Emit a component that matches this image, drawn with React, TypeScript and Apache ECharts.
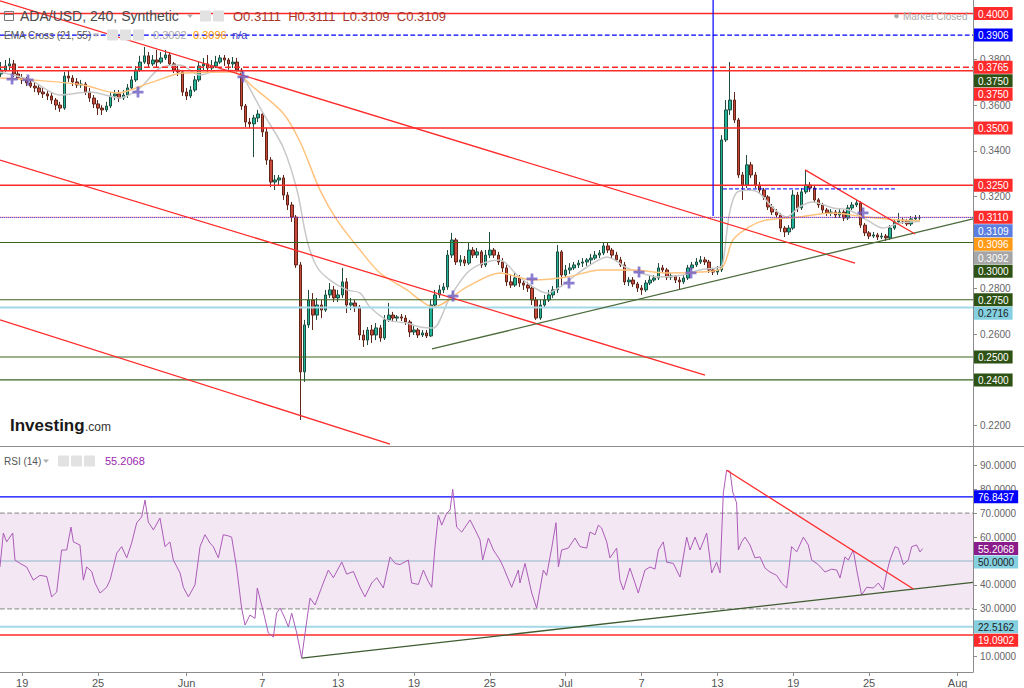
import React, { useEffect, useRef } from "react";
import * as echarts from "echarts";

// ---------------- DATA ----------------
// x values are days relative to Jun 1 (00:00)
const TICK_DAYS = [-13, -7, 0, 6, 12, 18, 24, 30, 36, 42, 48, 54, 61];
const TICK_LABELS = ["19", "25", "Jun", "7", "13", "19", "25", "Jul", "7", "13", "19", "25", "Aug"];
const PRICE_TICKS = [0.22, 0.24, 0.26, 0.28, 0.3, 0.32, 0.34, 0.36, 0.38, 0.4];
const PRICE_TICK_LABELS = [0.22, 0.26, 0.28, 0.32, 0.34, 0.36, 0.38];
const RSI_TICKS = [10, 20, 30, 40, 50, 60, 70, 80, 90];
const RSI_TICK_LABELS = [10, 30, 40, 60, 70, 80, 90];
const X_RANGE = [-14.755, 62.22];
const PRICE_RANGE = [0.21113, 0.4059];
const RSI_RANGE = [3.56, 97.7];

const CANDLE_START_DAY = -14.667;
const CANDLE_STEP_DAYS = 1 / 3;
// [open, close, low, high]
const CANDLES: number[][] = [
  [0.3736,0.3753,0.3723,0.3788],[0.3753,0.3771,0.3745,0.3797],[0.3771,0.3780,0.3753,0.3806],[0.3780,0.3736,0.3723,0.3797],
  [0.3736,0.3718,0.3710,0.3753],[0.3718,0.3710,0.3692,0.3736],[0.3710,0.3697,0.3683,0.3723],[0.3697,0.3683,0.3675,0.3710],
  [0.3683,0.3675,0.3657,0.3701],[0.3675,0.3657,0.3644,0.3688],[0.3657,0.3649,0.3631,0.3675],[0.3649,0.3640,0.3622,0.3666],
  [0.3640,0.3622,0.3605,0.3657],[0.3622,0.3600,0.3579,0.3631],[0.3600,0.3587,0.3570,0.3614],[0.3587,0.3727,0.3579,0.3745],
  [0.3727,0.3718,0.3701,0.3753],[0.3718,0.3701,0.3683,0.3731],[0.3701,0.3688,0.3675,0.3718],[0.3688,0.3692,0.3675,0.3710],
  [0.3692,0.3657,0.3644,0.3701],[0.3657,0.3631,0.3614,0.3675],[0.3631,0.3605,0.3587,0.3644],[0.3605,0.3587,0.3557,0.3622],
  [0.3587,0.3579,0.3557,0.3600],[0.3579,0.3596,0.3570,0.3614],[0.3596,0.3640,0.3587,0.3657],[0.3640,0.3649,0.3622,0.3666],
  [0.3649,0.3631,0.3614,0.3666],[0.3631,0.3644,0.3622,0.3666],[0.3644,0.3675,0.3631,0.3692],[0.3675,0.3710,0.3666,0.3727],
  [0.3710,0.3753,0.3701,0.3771],[0.3753,0.3788,0.3745,0.3815],[0.3788,0.3815,0.3780,0.3854],[0.3815,0.3780,0.3766,0.3832],
  [0.3780,0.3797,0.3771,0.3819],[0.3797,0.3788,0.3766,0.3841],[0.3788,0.3806,0.3780,0.3832],[0.3806,0.3819,0.3797,0.3841],
  [0.3819,0.3780,0.3771,0.3832],[0.3780,0.3753,0.3740,0.3788],[0.3753,0.3745,0.3727,0.3771],[0.3745,0.3657,0.3640,0.3753],
  [0.3657,0.3640,0.3622,0.3675],[0.3640,0.3666,0.3631,0.3683],[0.3666,0.3710,0.3657,0.3727],[0.3710,0.3771,0.3701,0.3788],
  [0.3771,0.3780,0.3753,0.3806],[0.3780,0.3762,0.3745,0.3819],[0.3762,0.3771,0.3745,0.3797],[0.3771,0.3788,0.3762,0.3815],
  [0.3788,0.3806,0.3780,0.3819],[0.3806,0.3797,0.3771,0.3819],[0.3797,0.3780,0.3753,0.3806],[0.3780,0.3788,0.3762,0.3810],
  [0.3788,0.3753,0.3736,0.3806],[0.3753,0.3596,0.3579,0.3762],[0.3596,0.3526,0.3504,0.3605],[0.3526,0.3518,0.3500,0.3544],
  [0.3518,0.3544,0.3373,0.3557],[0.3544,0.3561,0.3526,0.3579],[0.3561,0.3483,0.3461,0.3570],[0.3483,0.3360,0.3339,0.3500],
  [0.3360,0.3264,0.3242,0.3373],[0.3264,0.3273,0.3229,0.3295],[0.3273,0.3282,0.3247,0.3295],[0.3282,0.3207,0.3186,0.3295],
  [0.3207,0.3164,0.3142,0.3221],[0.3164,0.3111,0.3090,0.3177],[0.3111,0.2902,0.2889,0.3120],[0.2902,0.2435,0.2225,0.2915],
  [0.2435,0.2640,0.2391,0.2662],[0.2640,0.2749,0.2627,0.2793],[0.2749,0.2683,0.2618,0.2779],[0.2683,0.2727,0.2662,0.2758],
  [0.2727,0.2705,0.2670,0.2749],[0.2705,0.2771,0.2697,0.2793],[0.2771,0.2793,0.2758,0.2823],[0.2793,0.2758,0.2740,0.2810],
  [0.2758,0.2771,0.2740,0.2793],[0.2771,0.2828,0.2758,0.2889],[0.2828,0.2727,0.2692,0.2845],[0.2727,0.2736,0.2705,0.2758],
  [0.2736,0.2718,0.2697,0.2749],[0.2718,0.2596,0.2574,0.2727],[0.2596,0.2574,0.2544,0.2618],[0.2574,0.2618,0.2552,0.2631],
  [0.2618,0.2596,0.2561,0.2640],[0.2596,0.2627,0.2574,0.2648],[0.2627,0.2583,0.2566,0.2640],[0.2583,0.2662,0.2574,0.2683],
  [0.2662,0.2683,0.2653,0.2736],[0.2683,0.2670,0.2653,0.2697],[0.2670,0.2675,0.2657,0.2683],[0.2675,0.2670,0.2657,0.2688],
  [0.2670,0.2653,0.2640,0.2683],[0.2653,0.2609,0.2587,0.2662],[0.2609,0.2618,0.2596,0.2635],[0.2618,0.2596,0.2583,0.2627],
  [0.2596,0.2605,0.2587,0.2618],[0.2605,0.2592,0.2583,0.2618],[0.2592,0.2727,0.2587,0.2749],[0.2727,0.2771,0.2718,0.2793],
  [0.2771,0.2793,0.2758,0.2814],[0.2793,0.2806,0.2779,0.2823],[0.2806,0.2945,0.2793,0.2967],[0.2945,0.3011,0.2932,0.3042],
  [0.3011,0.2915,0.2902,0.3020],[0.2915,0.2924,0.2897,0.2945],[0.2924,0.2910,0.2897,0.2941],[0.2910,0.2967,0.2902,0.2998],
  [0.2967,0.2945,0.2932,0.2980],[0.2945,0.2959,0.2932,0.2976],[0.2959,0.2902,0.2889,0.2967],[0.2902,0.2945,0.2893,0.2967],
  [0.2945,0.2967,0.2932,0.3046],[0.2967,0.2945,0.2932,0.2976],[0.2945,0.2915,0.2902,0.2959],[0.2915,0.2889,0.2871,0.2932],
  [0.2889,0.2828,0.2810,0.2902],[0.2828,0.2814,0.2801,0.2858],[0.2814,0.2845,0.2806,0.2867],[0.2845,0.2823,0.2806,0.2858],
  [0.2823,0.2814,0.2793,0.2836],[0.2814,0.2801,0.2784,0.2828],[0.2801,0.2749,0.2727,0.2814],[0.2749,0.2670,0.2662,0.2762],
  [0.2670,0.2727,0.2662,0.2749],[0.2727,0.2749,0.2714,0.2771],[0.2749,0.2771,0.2740,0.2793],[0.2771,0.2793,0.2758,0.2810],
  [0.2793,0.2959,0.2779,0.2989],[0.2959,0.2858,0.2806,0.2967],[0.2858,0.2880,0.2845,0.2902],[0.2880,0.2889,0.2862,0.2910],
  [0.2889,0.2902,0.2880,0.2915],[0.2902,0.2910,0.2889,0.2924],[0.2910,0.2915,0.2893,0.2932],[0.2915,0.2924,0.2897,0.2932],
  [0.2924,0.2932,0.2906,0.2950],[0.2932,0.2945,0.2924,0.2963],[0.2945,0.2954,0.2932,0.2967],[0.2954,0.2985,0.2945,0.3002],
  [0.2985,0.2967,0.2954,0.2998],[0.2967,0.2945,0.2932,0.2976],[0.2945,0.2924,0.2915,0.2959],[0.2924,0.2902,0.2893,0.2937],
  [0.2902,0.2828,0.2814,0.2915],[0.2828,0.2836,0.2810,0.2849],[0.2836,0.2819,0.2806,0.2849],[0.2819,0.2801,0.2784,0.2828],
  [0.2801,0.2793,0.2771,0.2814],[0.2793,0.2823,0.2784,0.2836],[0.2823,0.2836,0.2814,0.2854],[0.2836,0.2845,0.2828,0.2858],
  [0.2845,0.2889,0.2836,0.2910],[0.2889,0.2880,0.2867,0.2902],[0.2880,0.2849,0.2836,0.2889],[0.2849,0.2854,0.2836,0.2867],
  [0.2854,0.2836,0.2823,0.2858],[0.2836,0.2828,0.2793,0.2849],[0.2828,0.2845,0.2819,0.2858],[0.2845,0.2889,0.2836,0.2902],
  [0.2889,0.2902,0.2880,0.2915],[0.2902,0.2915,0.2893,0.2932],[0.2915,0.2924,0.2906,0.2941],[0.2924,0.2915,0.2902,0.2937],
  [0.2915,0.2880,0.2867,0.2924],[0.2880,0.2871,0.2858,0.2889],[0.2871,0.2880,0.2858,0.2897],[0.2880,0.3448,0.2871,0.3469],
  [0.3448,0.3579,0.3439,0.3622],[0.3579,0.3622,0.3557,0.3788],[0.3622,0.3535,0.3522,0.3657],[0.3535,0.3295,0.3282,0.3544],
  [0.3295,0.3251,0.3186,0.3308],[0.3251,0.3339,0.3238,0.3382],[0.3339,0.3295,0.3282,0.3352],[0.3295,0.3251,0.3238,0.3308],
  [0.3251,0.3229,0.3216,0.3264],[0.3229,0.3199,0.3186,0.3238],[0.3199,0.3155,0.3142,0.3207],[0.3155,0.3133,0.3120,0.3168],
  [0.3133,0.3120,0.3107,0.3146],[0.3120,0.3063,0.3046,0.3129],[0.3063,0.3046,0.3024,0.3072],[0.3046,0.3063,0.3033,0.3076],
  [0.3063,0.3207,0.3055,0.3229],[0.3207,0.3151,0.3133,0.3221],[0.3151,0.3221,0.3142,0.3238],[0.3221,0.3251,0.3212,0.3317],
  [0.3251,0.3238,0.3221,0.3264],[0.3238,0.3186,0.3173,0.3247],[0.3186,0.3164,0.3151,0.3194],[0.3164,0.3142,0.3129,0.3173],
  [0.3142,0.3129,0.3116,0.3151],[0.3129,0.3133,0.3116,0.3146],[0.3133,0.3120,0.3107,0.3142],[0.3120,0.3133,0.3107,0.3146],
  [0.3133,0.3107,0.3094,0.3142],[0.3107,0.3151,0.3098,0.3164],[0.3151,0.3164,0.3142,0.3177],[0.3164,0.3173,0.3155,0.3186],
  [0.3173,0.3076,0.3063,0.3181],[0.3076,0.3042,0.3028,0.3085],[0.3042,0.3028,0.3015,0.3050],[0.3028,0.3033,0.3020,0.3046],
  [0.3033,0.3024,0.3011,0.3042],[0.3024,0.3028,0.3015,0.3042],[0.3028,0.3020,0.3007,0.3037],[0.3020,0.3063,0.3011,0.3076],
  [0.3063,0.3090,0.3055,0.3103],[0.3090,0.3098,0.3081,0.3129],[0.3098,0.3094,0.3081,0.3111],[0.3094,0.3081,0.3072,0.3103],
  [0.3081,0.3103,0.3072,0.3116],[0.3103,0.3107,0.3094,0.3120],[0.3107,0.3109,0.3098,0.3120]
];

// [day, value]
const EMA21: number[][] = [
  [-14.75,0.3745],[-12.38,0.3710],[-10.01,0.3644],[-7.63,0.3657],[-5.26,0.3631],[-3.68,0.3675],[-2.10,0.3762],[-0.51,0.3775],
  [1.07,0.3731],[2.65,0.3753],[4.23,0.3745],[4.63,0.3710],[6.05,0.3566],[7.63,0.3417],[8.74,0.3229],[9.53,0.3011],
  [10.32,0.2893],[11.35,0.2836],[12.70,0.2793],[13.73,0.2779],[14.52,0.2718],[15.86,0.2662],[17.44,0.2648],[18.47,0.2631],
  [19.50,0.2627],[20.85,0.2762],[22.19,0.2867],[23.46,0.2910],[24.80,0.2924],[26.15,0.2858],[27.41,0.2806],[28.52,0.2779],
  [29.55,0.2806],[30.58,0.2849],[31.69,0.2893],[33.27,0.2937],[34.85,0.2889],[35.88,0.2867],[37.46,0.2849],[39.28,0.2858],
  [40.62,0.2880],[42.21,0.2893],[42.45,0.2915],[42.93,0.3120],[43.49,0.3216],[44.52,0.3229],[45.31,0.3216],[46.34,0.3155],
  [47.45,0.3111],[48.48,0.3155],[49.51,0.3177],[51.15,0.3151],[52.40,0.3142],[53.84,0.3098],[55.09,0.3063],[56.44,0.3085],
  [58.03,0.3092]
];
const EMA55: number[][] = [
  [-14.75,0.3718],[-12.14,0.3710],[-8.19,0.3688],[-5.50,0.3653],[-2.89,0.3697],[-0.28,0.3740],[3.68,0.3745],[5.26,0.3679],
  [7.63,0.3566],[8.98,0.3440],[10.56,0.3229],[11.91,0.3098],[13.73,0.2967],[15.31,0.2867],[17.44,0.2793],[18.47,0.2749],
  [19.50,0.2718],[22.19,0.2806],[24.80,0.2867],[27.41,0.2836],[30.10,0.2849],[32.71,0.2880],[35.32,0.2880],[38.01,0.2867],
  [40.62,0.2871],[42.36,0.2889],[43.23,0.3011],[44.52,0.3068],[45.87,0.3098],[48.48,0.3111],[51.09,0.3129],[53.78,0.3111],
  [56.39,0.3098],[58.03,0.3096]
];
const EMA_CROSSES: number[][] = [
  [-13.80,0.3714],[-12.54,0.3710],[-3.84,0.3657],[4.47,0.3723],[21.08,0.2766],[27.33,0.2841],[30.26,0.2823],[35.80,0.2871],
  [39.91,0.2867],[53.52,0.3129]
];

const RSI: number[][] = [
  [-14.76,47.5],[-14.49,61.7],[-14.23,58],[-13.75,61.7],[-13.57,50.4],[-13.17,49],[-12.65,47.5],[-12.12,42],[-11.59,44],
  [-11.06,43.5],[-10.67,35],[-10.27,37],[-9.88,54.6],[-9.48,54.6],[-9.14,64.2],[-8.95,58],[-8.43,56.7],[-8.16,42],[-7.90,47.5],
  [-7.50,45.6],[-7.24,40.8],[-6.84,36.6],[-6.32,39],[-6.05,42],[-5.52,53.3],[-5.13,56],[-4.73,51.3],[-4.34,57.5],[-3.94,66],
  [-3.55,68.4],[-3.28,75.5],[-3.02,66.3],[-2.62,63],[-2.10,68],[-1.70,56],[-1.31,58],[-1.04,50.4],[-0.51,45],[-0.25,39],
  [0.15,35],[0.67,40],[1.07,56],[1.46,61],[1.86,57.5],[2.12,56],[2.52,51.3],[2.91,61],[3.31,60.5],[3.57,60],[3.97,47],
  [4.36,30.3],[4.63,23.2],[5.02,27.4],[5.42,26],[5.60,38.7],[6.08,28.7],[6.47,19.9],[6.87,18.2],[7.13,28.2],[7.40,30.3],
  [7.79,26],[8.06,22.4],[8.32,28.2],[8.72,19.9],[9.11,9.4],[9.38,19.9],[9.77,34.5],[10.17,31.6],[10.69,39],[11.22,46.2],
  [11.62,43],[12.28,49.6],[12.67,44.5],[13.20,45.6],[13.73,39],[14.12,35],[14.65,40.8],[15.05,43],[15.57,38.7],[16.10,51.7],
  [16.50,49],[16.89,48.5],[17.55,50.4],[17.81,40.8],[18.34,40.2],[18.74,46.2],[19.13,41.4],[19.40,39],[19.66,56],[19.92,69.2],
  [20.19,65],[20.58,70],[20.85,71.3],[21.06,80],[21.24,71.3],[21.37,64.2],[21.77,62.1],[22.43,67.2],[22.96,61.7],[23.22,58.8],
  [23.43,50.4],[23.88,59.6],[24.28,54.6],[24.80,50.4],[25.06,47.5],[25.72,39],[26.25,46.2],[26.38,40.8],[26.78,49],[27.31,36.6],
  [27.70,30.3],[28.23,46.2],[28.49,44],[28.89,55.4],[29.23,66],[29.42,47.5],[29.68,54.6],[30.21,55.4],[30.73,59.6],[31.13,56],
  [31.66,55.4],[31.92,62.1],[32.32,61],[32.58,65],[32.84,63.8],[33.24,58],[33.50,51.3],[34.03,55.4],[34.29,42],[34.56,37.9],
  [35.08,47],[35.48,40.8],[35.74,36.6],[36.27,46.2],[36.67,47.5],[37.06,46.6],[37.33,54.6],[37.72,58],[37.99,49.5],[38.51,49],
  [39.04,43.3],[39.57,60],[39.83,54.6],[40.23,60],[40.62,54.6],[41.15,61.7],[41.55,45],[41.94,49.5],[42.21,45],[42.47,78.5],
  [42.73,88],[43.00,87.5],[43.21,78.9],[43.52,74.3],[43.66,54.6],[43.92,58],[44.18,60],[44.58,56.7],[44.97,51.3],[45.37,51.7],
  [45.77,47],[46.16,45.4],[46.69,44],[47.08,40.8],[47.48,38.7],[47.87,56],[48.27,53.8],[48.80,60],[49.19,56.7],[49.46,50.4],
  [49.98,48.5],[50.51,45.4],[51.04,46.6],[51.44,46.2],[51.70,42.9],[52.09,51.7],[52.36,50.4],[52.75,54.6],[53.02,46.2],
  [53.41,35.8],[53.81,39],[54.34,38.7],[54.73,40.8],[55.13,37.9],[55.39,45],[55.65,50.4],[56.05,56],[56.31,55.4],[56.71,48.5],
  [57.10,50.4],[57.37,56],[57.76,56.7],[58.03,53.8],[58.24,55.2068]
];

// horizontal levels in price pane
const MAIN_LEVELS = [0.4, 0.3906, 0.3765, 0.375, 0.35, 0.325, 0.311, 0.3109, 0.3, 0.275, 0.2716, 0.25, 0.24];
const MAIN_TAGS = [0.4, 0.3906, 0.3765, 0.375, 0.375, 0.35, 0.325, 0.311, 0.3109, 0.3096, 0.3092, 0.3, 0.275, 0.2716, 0.25, 0.24];
// trend lines [[day, price], [day, price]]
const MAIN_TRENDS: number[][][] = [
  [[-14.755, 0.4055], [52.89, 0.2910]],
  [[-14.755, 0.3360], [41.02, 0.2421]],
  [[-14.755, 0.2662], [16.1, 0.2120]],
  [[19.42, 0.2535], [62.22, 0.3103]],
  [[48.93, 0.3317], [57.64, 0.3037]],
  [[42.44, 0.3234], [56.22, 0.3234]],
  [[41.66, 0.4059], [41.66, 0.3116]]
];
const RSI_BAND = [30, 70];
const RSI_LEVELS = [76.8437, 70, 50, 30, 22.5162, 19.0902];
const RSI_TAGS = [76.8437, 55.2068, 50, 22.5162, 19.0902];
const RSI_TRENDS: number[][][] = [
  [[9.11, 9.4], [62.22, 41.1]],
  [[42.73, 88.0], [57.5, 38.3]]
];

// ---------------- STYLE / BUILD ----------------
const FONT = "Liberation Sans, Arial, Helvetica, sans-serif";
const RED = "#ff2a2a";
const BLUE = "#0000ff";
const DKGREEN = "#3a6620";
const LIGHTBLUE = "#a3d9e6";

function fmtTick(v: number) {
  const i = TICK_DAYS.findIndex((d) => Math.abs(d - v) < 1e-6);
  return i >= 0 ? TICK_LABELS[i] : "";
}

function segSeries(pts: number[][], idx: number, st: any, z: number) {
  return {
    type: "line",
    xAxisIndex: idx,
    yAxisIndex: idx,
    data: pts,
    symbol: "none",
    silent: true,
    z,
    lineStyle: { color: st.color, width: st.width || 1, type: st.type || "solid", opacity: st.opacity == null ? 1 : st.opacity },
    itemStyle: { color: st.color },
    emphasis: { disabled: true },
  };
}

function levelSeries(v: number, idx: number, st: any, z: number) {
  return segSeries([[X_RANGE[0], v], [X_RANGE[1], v]], idx, st, z);
}

function buildOption() {
  const mainLevelStyles: any[] = [
    { color: RED, width: 1.5 },
    { color: BLUE, type: "dashed", width: 1.2 },
    { color: RED, type: "dashed", width: 1.5 },
    { color: RED, width: 1.5 },
    { color: RED, width: 1.5 },
    { color: RED, width: 1.5 },
    { color: RED, opacity: 0.45, width: 1.2 },
    { color: "#5050ff", type: "dotted", width: 1 },
    { color: DKGREEN, width: 1.2 },
    { color: DKGREEN, width: 1.2 },
    { color: LIGHTBLUE, width: 2 },
    { color: DKGREEN, width: 1.2 },
    { color: DKGREEN, width: 1.2 },
  ];
  const rsiLevelStyles: any[] = [
    { color: BLUE, width: 1.2 },
    { color: "#9a9a9a", type: "dashed", width: 1.2 },
    { color: "#93b6cc", width: 1.2 },
    { color: "#9a9a9a", type: "dashed", width: 1.2 },
    { color: LIGHTBLUE, width: 2 },
    { color: RED, width: 1.5 },
  ];
  const mainTrendStyles: any[] = [
    { color: RED, width: 1.3 },
    { color: RED, width: 1.3 },
    { color: RED, width: 1.3 },
    { color: "#4d6b3c", width: 1.3 },
    { color: RED, width: 1.3 },
    { color: BLUE, width: 1, type: "dashed" },
    { color: BLUE, width: 1.2 },
  ];
  const rsiTrendStyles: any[] = [
    { color: "#3f5c30", width: 1.3 },
    { color: RED, width: 1.3 },
  ];

  const axisLineStyle = { color: "#8c8c8c", width: 1 };

  return {
    animation: false,
    backgroundColor: "#ffffff",
    grid: [
      { left: 0, top: 0, width: 973, height: 446, outerBoundsMode: "none" },
      { left: 0, top: 447, width: 973, height: 225, outerBoundsMode: "none" },
    ],
    xAxis: [
      { type: "value", gridIndex: 0, min: X_RANGE[0], max: X_RANGE[1], show: false },
      {
        type: "value",
        gridIndex: 1,
        min: X_RANGE[0],
        max: X_RANGE[1],
        axisLine: { show: true, onZero: false, lineStyle: axisLineStyle },
        axisTick: { show: true, customValues: TICK_DAYS, length: 4, lineStyle: axisLineStyle },
        axisLabel: {
          customValues: TICK_DAYS,
          formatter: fmtTick,
          color: "#555555",
          fontSize: 11,
          fontFamily: FONT,
          margin: 5,
        },
        splitLine: { show: false },
      },
    ],
    yAxis: [
      {
        type: "value",
        gridIndex: 0,
        position: "right",
        min: PRICE_RANGE[0],
        max: PRICE_RANGE[1],
        axisLine: { show: true, onZero: false, lineStyle: axisLineStyle },
        axisTick: { show: true, customValues: PRICE_TICKS, length: 4, lineStyle: axisLineStyle },
        axisLabel: {
          customValues: PRICE_TICK_LABELS,
          formatter: (v: number) => v.toFixed(4),
          color: "#666666",
          fontSize: 10,
          fontFamily: FONT,
          margin: 7,
        },
        splitLine: { show: false },
      },
      {
        type: "value",
        gridIndex: 1,
        position: "right",
        min: RSI_RANGE[0],
        max: RSI_RANGE[1],
        axisLine: { show: true, onZero: false, lineStyle: axisLineStyle },
        axisTick: { show: true, customValues: RSI_TICKS, length: 4, lineStyle: axisLineStyle },
        axisLabel: {
          customValues: RSI_TICK_LABELS,
          formatter: (v: number) => v.toFixed(4),
          color: "#666666",
          fontSize: 10,
          fontFamily: FONT,
          margin: 7,
        },
        splitLine: { show: false },
      },
    ],
    series: [
      {
        type: "candlestick",
        xAxisIndex: 0,
        yAxisIndex: 0,
        data: CANDLES.map((r, i) => [CANDLE_START_DAY + i * CANDLE_STEP_DAYS, r[0], r[1], r[2], r[3]]),
        barWidth: 3,
        silent: true,
        z: 2,
        itemStyle: {
          color: "#1fb39a",
          color0: "#c94a3c",
          borderColor: "#1f4d3d",
          borderColor0: "#5e2418",
          borderWidth: 1,
        },
      },
      {
        type: "line",
        xAxisIndex: 0,
        yAxisIndex: 0,
        data: EMA21,
        symbol: "none",
        silent: true,
        z: 3,
        smooth: 0.3,
        lineStyle: { color: "#c8c8c8", width: 1.5 },
        itemStyle: { color: "#c8c8c8" },
      },
      {
        type: "line",
        xAxisIndex: 0,
        yAxisIndex: 0,
        data: EMA55,
        symbol: "none",
        silent: true,
        z: 3,
        smooth: 0.3,
        lineStyle: { color: "#ffc37e", width: 1.5 },
        itemStyle: { color: "#ffc37e" },
      },
      ...MAIN_LEVELS.map((v, i) => levelSeries(v, 0, mainLevelStyles[i], 5)),
      ...MAIN_TRENDS.map((t, i) => segSeries(t, 0, mainTrendStyles[i], 6)),
      {
        type: "scatter",
        xAxisIndex: 0,
        yAxisIndex: 0,
        data: EMA_CROSSES,
        symbol: "path://M3,0 L5,0 L5,3 L8,3 L8,5 L5,5 L5,8 L3,8 L3,5 L0,5 L0,3 L3,3 Z",
        symbolSize: 11,
        silent: true,
        z: 7,
        itemStyle: { color: "#6d5cc4", opacity: 0.8 },
      },
      {
        type: "line",
        xAxisIndex: 1,
        yAxisIndex: 1,
        data: RSI,
        symbol: "none",
        silent: true,
        z: 4,
        lineStyle: { color: "#ac5cb8", width: 1 },
        itemStyle: { color: "#ac5cb8" },
        markArea: {
          silent: true,
          z: 1,
          precision: 4,
          itemStyle: { color: "#f2e7f2" },
          label: { show: false },
          data: [[{ yAxis: RSI_BAND[0] }, { yAxis: RSI_BAND[1] }]],
        },
      },
      ...RSI_LEVELS.map((v, i) => levelSeries(v, 1, rsiLevelStyles[i], 3)),
      ...RSI_TRENDS.map((t, i) => segSeries(t, 1, rsiTrendStyles[i], 6)),
    ],
  };
}

function tagWidth(text: string) {
  let w = 0;
  for (const ch of text) w += ch === "." ? 2.8 : 5.56;
  return w + 8;
}

function stackTags(chart: any, gridIndex: number, values: number[], gap: number) {
  let prev = -Infinity;
  return values.map((v) => {
    const p = chart.convertToPixel({ gridIndex }, [0, v]);
    const y = Math.max(p[1], prev + gap);
    prev = y;
    return y;
  });
}

function txt(x: number, y: number, text: string, fill: string, size: number, extra: any = {}) {
  return {
    type: "text",
    x,
    y,
    silent: true,
    z: 60,
    style: {
      text,
      fill,
      fontSize: size,
      fontFamily: FONT,
      align: "left",
      textAlign: "left",
      verticalAlign: "middle",
      textVerticalAlign: "middle",
      ...extra,
    },
  };
}

function iconBoxes(x0: number, y: number, n: number) {
  const out: any[] = [];
  for (let i = 0; i < n; i++) {
    out.push({
      type: "rect",
      silent: true,
      z: 60,
      shape: { x: x0 + i * 13, y: y - 5.5, width: 11, height: 11, r: 1 },
      style: { fill: "#e2e2e2" },
    });
  }
  return out;
}

function caret(x: number, y: number) {
  return {
    type: "polygon",
    silent: true,
    z: 60,
    shape: { points: [[x, y - 1.5], [x + 6, y - 1.5], [x + 3, y + 2]] },
    style: { fill: "#b0b0b0" },
  };
}

function buildGraphics(chart: any) {
  const els: any[] = [];
  // pane separator
  els.push({
    type: "line",
    silent: true,
    z: 40,
    shape: { x1: 0, y1: 446.5, x2: 1024, y2: 446.5 },
    style: { stroke: "#8c8c8c", lineWidth: 1 },
  });

  // title row
  els.push({
    type: "rect",
    silent: true,
    z: 60,
    shape: { x: 4.5, y: 11.5, width: 9, height: 9 },
    style: { fill: "none", stroke: "#777", lineWidth: 1 },
  });
  els.push({
    type: "line",
    silent: true,
    z: 60,
    shape: { x1: 4.5, y1: 14.5, x2: 13.5, y2: 14.5 },
    style: { stroke: "#777", lineWidth: 1 },
  });
  els.push(txt(20, 16, "ADA/USD, 240, Synthetic", "#4a4a4a", 14));
  els.push(caret(187, 16));
  els.push(...iconBoxes(200, 16, 2));
  els.push(txt(233, 16, "O0.3111  H0.3111  L0.3109  C0.3109", "#a8372d", 13));

  // EMA legend row
  els.push(txt(4, 35, "EMA Cross (21, 55)", "#555555", 10));
  els.push(caret(93, 35));
  els.push(...iconBoxes(107, 35, 3));
  els.push(txt(153, 35, "0.3092", "#aaaaaa", 11));
  els.push(txt(193, 35, "0.3096", "#ff9800", 11));
  els.push(txt(232, 35, "n/a", "#3b3bc4", 11));

  // Market closed
  els.push({
    type: "circle",
    silent: true,
    z: 60,
    shape: { cx: 896.5, cy: 16, r: 2.3 },
    style: { fill: "#aaaaaa" },
  });
  els.push(txt(903, 16, "Market Closed", "#aaaaaa", 10));

  // Investing.com logo
  els.push(txt(10, 425, "Investing", "#1a1a1a", 17, { fontWeight: "bold" }));
  els.push(txt(85, 427, ".com", "#333333", 12));

  // RSI legend row
  els.push(txt(4, 461, "RSI (14)", "#555555", 10));
  els.push(caret(43, 461));
  els.push(...iconBoxes(58, 461, 3));
  els.push(txt(105, 461, "55.2068", "#9c27b0", 11));

  // price tags
  const mainTagStyles: string[][] = [
    [RED, "#fff"],
    [BLUE, "#fff"],
    [RED, "#fff"],
    ["#2e5114", "#fff"],
    [RED, "#fff"],
    [RED, "#fff"],
    [RED, "#fff"],
    [RED, "#fff"],
    ["#5b7fe0", "#fff"],
    ["#ff9a16", "#fff"],
    ["#a6a6a6", "#fff"],
    ["#2e5114", "#fff"],
    ["#2e5114", "#fff"],
    ["#84d0e0", "#1a1a1a"],
    ["#2e5114", "#fff"],
    ["#2e5114", "#fff"],
  ];
  const rsiTagStyles: string[][] = [
    [BLUE, "#fff"],
    ["#8b1c8b", "#fff"],
    ["#84d0e0", "#1a1a1a"],
    ["#84d0e0", "#1a1a1a"],
    [RED, "#fff"],
  ];
  const pushTags = (values: number[], ys: number[], styles: string[][]) => {
    values.forEach((v, i) => {
      const text = v.toFixed(4);
      const w = tagWidth(text);
      els.push({
        type: "rect",
        silent: true,
        z: 70,
        shape: { x: 974, y: ys[i] - 6.5, width: w, height: 13 },
        style: { fill: styles[i][0] },
      });
      els.push({
        type: "text",
        silent: true,
        z: 71,
        x: 974 + w / 2,
        y: ys[i] + 0.5,
        style: {
          text,
          fill: styles[i][1],
          fontSize: 10,
          fontFamily: FONT,
          align: "center",
          textAlign: "center",
          verticalAlign: "middle",
          textVerticalAlign: "middle",
        },
      });
    });
  };
  pushTags(MAIN_TAGS, stackTags(chart, 0, MAIN_TAGS, 13.5), mainTagStyles);
  pushTags(RSI_TAGS, stackTags(chart, 1, RSI_TAGS, 13.5), rsiTagStyles);
  return els;
}

export default function App() {
  const ref = useRef<HTMLDivElement>(null);
  useEffect(() => {
    const el = ref.current;
    if (!el) return;
    const chart = echarts.init(el, undefined, { renderer: "svg", width: 1024, height: 688 });
    chart.setOption(buildOption() as any);
    chart.setOption({ graphic: buildGraphics(chart) } as any);
    return () => chart.dispose();
  }, []);
  return (
    <div
      ref={ref}
      style={{ position: "fixed", left: 0, top: 0, width: 1024, height: 688, background: "#ffffff" }}
    />
  );
}
